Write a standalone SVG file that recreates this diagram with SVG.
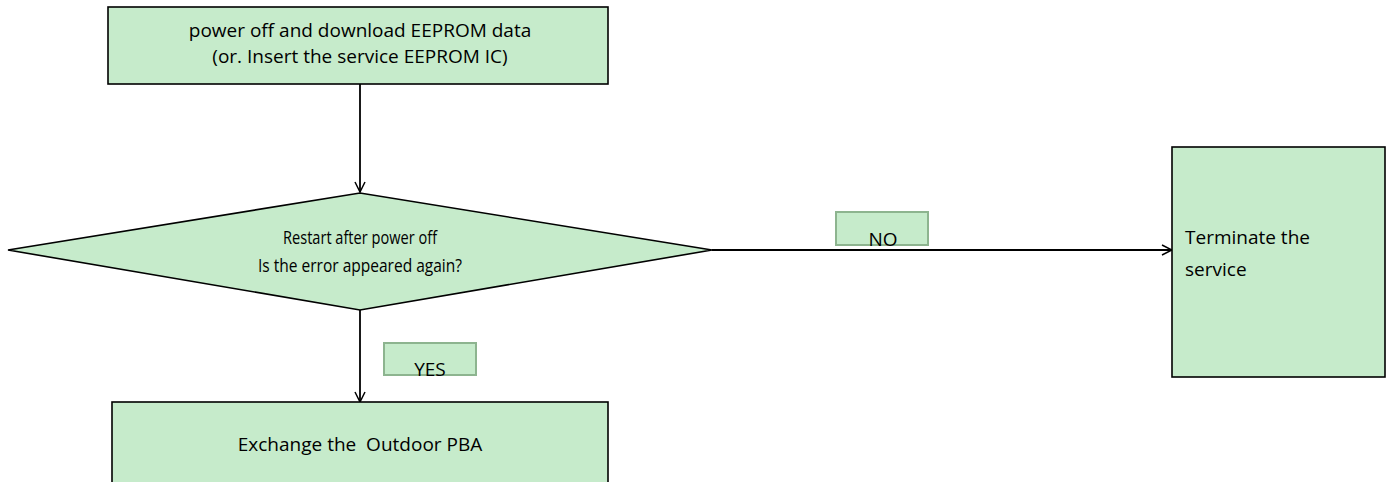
<svg xmlns="http://www.w3.org/2000/svg" width="1387" height="482" viewBox="0 0 1387 482">
<style>
.node{fill:#c6ebcb;stroke:#000;stroke-width:1.6}
.lbl{fill:#c6ebcb;stroke:#8db48f;stroke-width:2}
.t{font-family:"Open Sans","Liberation Sans",sans-serif;font-size:19px;fill:#000;white-space:pre}
.s{font-size:18px}
.c{text-anchor:middle}
.edge{stroke:#000;stroke-width:1.8;fill:none}
</style>
<defs>
<marker id="arr" viewBox="0 0 12 12" refX="11" refY="6" markerWidth="12" markerHeight="12" markerUnits="userSpaceOnUse" orient="auto">
<path d="M1,1 L11,6 L1,11" fill="none" stroke="#000" stroke-width="1.5"/>
</marker>
</defs>
<rect width="1387" height="482" fill="#fff"/>
<g id="connectors">
<line class="edge" x1="360" y1="84" x2="360" y2="192" marker-end="url(#arr)"/>
<line class="edge" x1="712" y1="250" x2="1172" y2="250" marker-end="url(#arr)"/>
<line class="edge" x1="360" y1="310" x2="360" y2="402" marker-end="url(#arr)"/>
</g>
<g id="n1">
<rect class="node" x="108" y="7" width="500" height="77"/>
<text class="t c" x="360" y="37">power off and download EEPROM data</text>
<text class="t c" x="360" y="63">(or. Insert the service EEPROM IC)</text>
</g>
<g id="n2">
<polygon class="node" points="8,250 360,193 712,250 360,310"/>
<text class="t s c" x="360" y="244" textLength="154" lengthAdjust="spacingAndGlyphs">Restart after power off</text>
<text class="t s c" x="360" y="272" textLength="204" lengthAdjust="spacingAndGlyphs">Is the error appeared again?</text>
</g>
<g id="lblNo">
<rect class="lbl" x="836" y="212" width="92" height="33"/>
<text class="t c" x="883" y="246">NO</text>
</g>
<g id="n3">
<rect class="node" x="1172" y="147" width="213" height="230"/>
<text class="t" x="1185" y="244">Terminate the</text>
<text class="t" x="1185" y="276">service</text>
</g>
<g id="lblYes">
<rect class="lbl" x="384" y="343" width="92" height="32"/>
<text class="t c" x="430" y="376">YES</text>
</g>
<g id="n4">
<rect class="node" x="112" y="402" width="496" height="85"/>
<text class="t c" x="360" y="451" xml:space="preserve">Exchange the  Outdoor PBA</text>
</g>
</svg>
